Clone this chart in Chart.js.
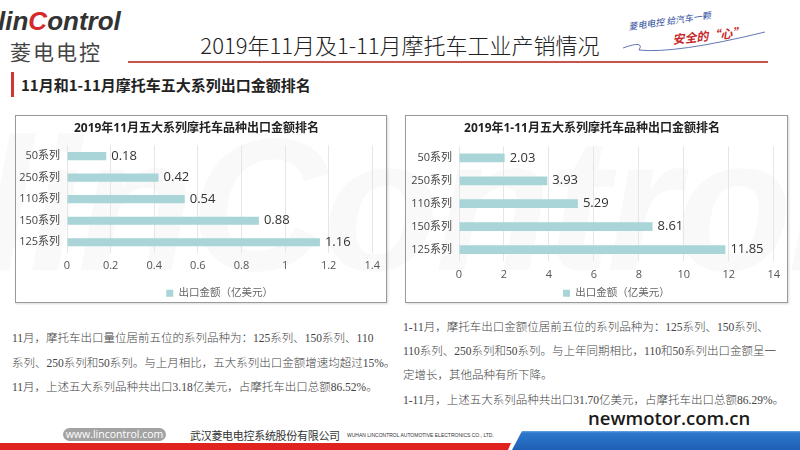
<!DOCTYPE html>
<html lang="zh-CN">
<head>
  <meta charset="UTF-8">
  <title>2019年11月及1-11月摩托车工业产销情况</title>
  <script src="https://cdn.jsdelivr.net/npm/chart.js"></script>
  <style>
    body {
      margin: 0;
      width: 800px;
      height: 450px;
      position: relative;
      overflow: hidden;
      background: #fff;
      font-family: "Noto Sans CJK SC", sans-serif;
      color: #333;
    }
    .abs { position: absolute; white-space: nowrap; }
    .watermark {
      left: -20px; top: 95px;
      font: italic bold 190px "Liberation Sans", sans-serif;
      color: rgba(0, 0, 0, 0.022);
      letter-spacing: -4px;
    }
    .logo-en { left: -2px; top: 6px; font: italic bold 26px "Liberation Sans", sans-serif; color: #333; }
    .logo-en span { color: #d42a2a; }
    .logo-cn { left: 10px; top: 36px; font-size: 21px; color: #444; letter-spacing: 2px; }
    .title { left: 0; width: 800px; text-align: center; top: 29px; font-size: 22px; line-height: 30px; color: #222; font-weight: 300; }
    .rule { left: 128px; top: 61px; width: 640px; height: 1.5px; background: #c9534f; }
    .sec-bar { left: 11px; top: 72px; width: 3px; height: 25px; background: #d0362f; }
    .sec-title { left: 21px; top: 75px; font-size: 15px; line-height: 20px; font-weight: bold; color: #222; }
    .box {
      position: absolute;
      border: 1px solid #9a9a9a;
      box-shadow: 1px 1px 2px rgba(0, 0, 0, 0.15);
    }
    .para {
      font-family: "Liberation Serif", "Noto Sans CJK SC", serif;
      font-size: 11.5px;
      line-height: 16px;
      color: #444;
      font-weight: 300;
    }
    .newmotor { left: 588px; top: 405px; font: 600 18.5px "Open Sans", sans-serif; color: #1a1a1a; }
    .pill {
      left: 63px; top: 428px; width: 103px; height: 13px; border-radius: 7px;
      background: #a3a3a3; color: #fff; font: 10.5px/13px "Open Sans", sans-serif; text-align: center;
    }
    .company { left: 190px; top: 427px; font-size: 11px; line-height: 16px; color: #333; letter-spacing: -0.3px; }
    .company-en { left: 347px; top: 432px; font: 5px/6px "Liberation Sans", sans-serif; color: #333; }
    .red-band {
      left: 0; top: 443px; width: 511px; height: 7px; background: #e0231f;
      clip-path: polygon(0 0, 100% 0, calc(100% - 3px) 100%, 0 100%);
    }
    .blue-band {
      left: 512px; top: 431px; width: 288px; height: 19px;
      background: linear-gradient(#6ea7e2 0, #2c78cc 2px, #1e5fb3 100%);
      clip-path: polygon(10px 0, 100% 0, 100% 100%, 0 100%);
    }
  </style>
</head>
<body>
  <div class="abs watermark">linControl</div>

  <div class="abs logo-en">lin<span>C</span>ontrol</div>
  <div class="abs logo-cn">菱电电控</div>
  <div class="abs title">2019年11月及1-11月摩托车工业产销情况</div>
  <div class="abs rule"></div>

  <svg class="abs" style="left:615px;top:10px" width="160" height="48">
    <text x="14" y="20" font-size="9" font-style="italic" fill="#2f4d9c" transform="rotate(-8 14 20)">菱电电控 给汽车一颗</text>
    <text x="58" y="34" font-size="12" font-style="italic" font-weight="bold" fill="#c8282d" transform="rotate(-6 58 34)">安全的“心”</text>
    <path d="M8 38 Q 30 30 24 40 Q 60 44 150 22" fill="none" stroke="#3a55a0" stroke-width="0.8"/>
  </svg>

  <div class="abs sec-bar"></div>
  <div class="abs sec-title">11月和1-11月摩托车五大系列出口金额排名</div>

  <div class="box" style="left:15px;top:115px;width:370px;height:186px;">
    <canvas id="novChart"></canvas>
  </div>
  <div class="box" style="left:405px;top:115px;width:381px;height:186px;">
    <canvas id="ytdChart"></canvas>
  </div>

  <div class="abs para" style="left:12px;top:330px;">11月，摩托车出口量位居前五位的系列品种为：125系列、150系列、110</div>
  <div class="abs para" style="left:12px;top:355px;">系列、250系列和50系列。与上月相比，五大系列出口金额增速均超过15%。</div>
  <div class="abs para" style="left:12px;top:379px;">11月，上述五大系列品种共出口3.18亿美元，占摩托车出口总额86.52%。</div>

  <div class="abs para" style="left:403px;top:319px;">1-11月，摩托车出口金额位居前五位的系列品种为：125系列、150系列、</div>
  <div class="abs para" style="left:403px;top:343px;">110系列、250系列和50系列。与上年同期相比，110和50系列出口金额呈一</div>
  <div class="abs para" style="left:403px;top:367px;">定增长，其他品种有所下降。</div>
  <div class="abs para" style="left:403px;top:392px;">1-11月，上述五大系列品种共出口31.70亿美元，占摩托车出口总额86.29%。</div>

  <div class="abs newmotor">newmotor.com.cn</div>
  <div class="abs pill">www.lincontrol.com</div>
  <div class="abs company">武汉菱电电控系统股份有限公司</div>
  <div class="abs company-en">WUHAN LINCONTROL AUTOMOTIVE ELECTRONICS CO., LTD.</div>
  <div class="abs red-band"></div>
  <div class="abs blue-band"></div>

  <script>
    // 数据
    const seriesNames = ['50系列', '250系列', '110系列', '150系列', '125系列'];
    const novValues = [0.18, 0.42, 0.54, 0.88, 1.16];
    const ytdValues = [2.03, 3.93, 5.29, 8.61, 11.85];
    const novTicks = [0, 0.2, 0.4, 0.6, 0.8, 1, 1.2, 1.4];
    const ytdTicks = [0, 2, 4, 6, 8, 10, 12, 14];
    const legendLabel = '出口金额（亿美元）';
    const novTitle = '2019年11月五大系列摩托车品种出口金额排名';
    const ytdTitle = '2019年1-11月五大系列摩托车品种出口金额排名';

    const barColor = '#a9d5d8';
    const chartFont = '"Open Sans", "Noto Sans CJK SC", sans-serif';

    // 柱末数值
    const valueLabels = {
      id: 'valueLabels',
      afterDatasetsDraw(chart) {
        const ctx = chart.ctx;
        const meta = chart.getDatasetMeta(0);
        const vals = chart.data.datasets[0].data;
        ctx.save();
        ctx.font = '13px ' + chartFont;
        ctx.fillStyle = '#333';
        ctx.textAlign = 'left';
        ctx.textBaseline = 'middle';
        meta.data.forEach((bar, i) => {
          ctx.fillText(String(vals[i]), bar.x + 5, bar.y);
        });
        ctx.restore();
      }
    };

    function makeChart(id, title, values, ticks, lay) {
      const ctx = document.getElementById(id).getContext('2d');
      return new Chart(ctx, {
        type: 'bar',
        data: {
          labels: seriesNames,
          datasets: [{
            label: legendLabel,
            data: values,
            backgroundColor: barColor,
            barPercentage: 0.38,
            categoryPercentage: 1
          }]
        },
        options: {
          indexAxis: 'y',
          responsive: true,
          maintainAspectRatio: false,
          animation: false,
          layout: { padding: { left: 0, right: 9, top: 0, bottom: 0 } },
          plugins: {
            title: {
              display: true,
              text: title,
              color: '#222',
              font: { family: chartFont, size: 12, weight: 'bold' },
              padding: { top: 5, bottom: lay.titleBottom }
            },
            legend: {
              position: 'bottom',
              fullSize: false,
              maxHeight: 20,
              labels: {
                boxWidth: 7,
                boxHeight: 7,
                padding: 6,
                color: '#666',
                font: { family: chartFont, size: 10.5 }
              }
            },
            tooltip: { enabled: false }
          },
          scales: {
            x: {
              min: ticks[0],
              max: ticks[ticks.length - 1],
              afterBuildTicks(scale) {
                scale.ticks = ticks.map(v => ({ value: v }));
              },
              afterFit(scale) { scale.height = lay.xHeight; },
              grid: { color: '#e6e6e6', drawTicks: false },
              border: { display: false },
              ticks: {
                padding: lay.xPad,
                color: '#555',
                font: { family: chartFont, size: 11 },
                callback: v => String(v)
              }
            },
            y: {
              afterFit(scale) { scale.width = lay.yWidth; },
              grid: { display: false, drawTicks: false },
              border: { display: false },
              ticks: {
                padding: 7,
                color: '#444',
                font: { family: chartFont, size: 11 }
              }
            }
          }
        },
        plugins: [valueLabels]
      });
    }

    makeChart('novChart', novTitle, novValues, novTicks,
      { titleBottom: 10, xHeight: 29, xPad: 6, yWidth: 51 });
    makeChart('ytdChart', ytdTitle, ytdValues, ytdTicks,
      { titleBottom: 11, xHeight: 21, xPad: 7, yWidth: 53 });
  </script>
</body>
</html>
